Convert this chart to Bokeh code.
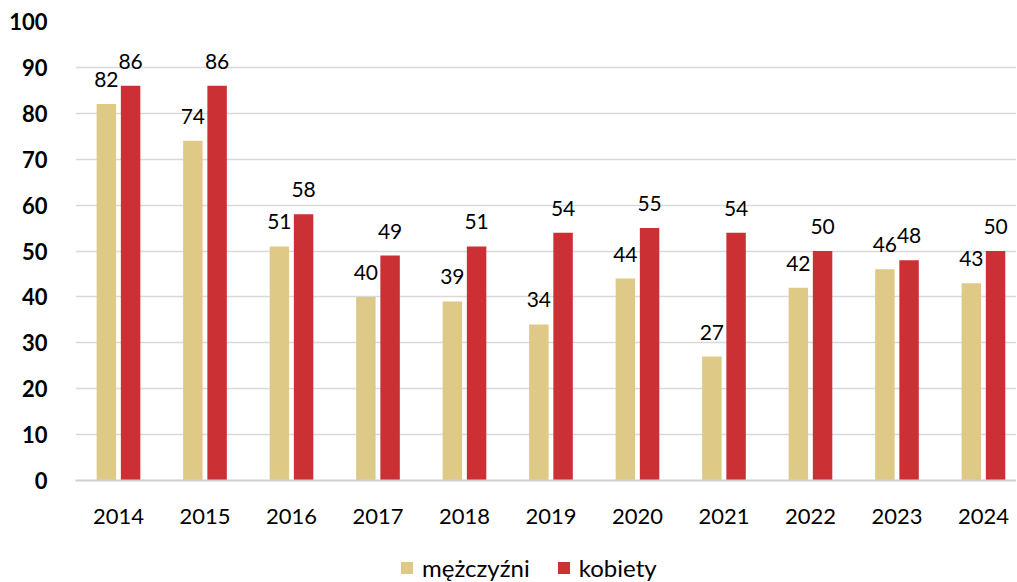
from bokeh.plotting import figure
from bokeh.layouts import column
from bokeh.models import ColumnDataSource, Range1d, LabelSet, Legend, LegendItem, FixedTicker
from bokeh.core.properties import value
from bokeh.embed import file_html
from bokeh.resources import INLINE

years = [2014, 2015, 2016, 2017, 2018, 2019, 2020, 2021, 2022, 2023, 2024]
men = [82, 74, 51, 40, 39, 34, 44, 27, 42, 46, 43]
women = [86, 86, 58, 49, 51, 54, 55, 54, 50, 48, 50]
series_names = ["mężczyźni", "kobiety"]
colors = ["#dec986", "#cb3035"]

FONT = "Lato"
off = 0.14
bw = 0.225

src_m = ColumnDataSource(dict(x=[y - off for y in years], top=men, lab=[str(v) for v in men]))
src_w = ColumnDataSource(dict(x=[y + off for y in years], top=women, lab=[str(v) for v in women]))

p = figure(frame_width=941, frame_height=459, output_backend="svg", toolbar_location=None,
           x_range=Range1d(2013.503, 2024.382), y_range=Range1d(0, 100),
           min_border_left=75, min_border_right=0, min_border_top=21, min_border_bottom=52)
p.outline_line_color = None
p.background_fill_color = "white"

r1 = p.vbar(x="x", top="top", width=bw, source=src_m, fill_color=colors[0], line_color=None)
r2 = p.vbar(x="x", top="top", width=bw, source=src_w, fill_color=colors[1], line_color=None)

for s in (src_m, src_w):
    p.add_layout(LabelSet(x="x", y="top", text="lab", source=s, text_align="center",
                          text_baseline="alphabetic", y_offset=17, text_font=value(FONT),
                          text_font_size="21px", text_color="#000000"))

p.xaxis.ticker = FixedTicker(ticks=years)
p.xaxis.major_label_overrides = {y: str(y) for y in years}
p.xaxis.major_label_text_font = FONT
p.xaxis.major_label_text_font_size = "22px"
p.xaxis.major_label_text_color = "#000000"
p.xaxis.major_label_standoff = 22
p.xaxis.major_tick_line_color = None
p.xaxis.minor_tick_line_color = None
p.xaxis.axis_line_color = "#d0d0d0"
p.xaxis.axis_line_width = 2

p.yaxis.ticker = FixedTicker(ticks=list(range(0, 101, 10)))
p.yaxis.major_label_text_font = FONT
p.yaxis.major_label_text_font_size = "22px"
p.yaxis.major_label_text_font_style = "bold"
p.yaxis.major_label_text_color = "#000000"
p.yaxis.major_label_standoff = 22
p.yaxis.major_tick_line_color = None
p.yaxis.minor_tick_line_color = None
p.yaxis.axis_line_color = None

p.xgrid.grid_line_color = None
p.ygrid.grid_line_color = "#d9d9d9"
p.ygrid.grid_line_width = 1.5

# legend strip (zero-area helper glyphs only provide the legend swatches)
lg = figure(width=1016, height=50, output_backend="svg", toolbar_location=None,
            x_axis_type=None, y_axis_type=None, x_range=Range1d(0, 1), y_range=Range1d(0, 1),
            min_border=0)
lg.outline_line_color = None
lg.xgrid.grid_line_color = None
lg.ygrid.grid_line_color = None
sw = ColumnDataSource(dict(x=[0], top=[0]))
d1 = lg.vbar(x="x", top="top", width=0, source=sw, fill_color=colors[0], line_color=None)
d2 = lg.vbar(x="x", top="top", width=0, source=sw, fill_color=colors[1], line_color=None)
legend = Legend(items=[LegendItem(label=series_names[0], renderers=[d1]),
                       LegendItem(label=series_names[1], renderers=[d2])],
                orientation="horizontal", location=(324, 0),
                label_text_font=FONT, label_text_font_size="24px", label_text_color="#000000",
                glyph_width=15, glyph_height=15, spacing=26, border_line_color=None,
                background_fill_alpha=0, margin=0, padding=0, label_standoff=8)
lg.add_layout(legend, "center")

layout = column(p, lg, spacing=0)
open("out.html", "w").write(file_html(layout, INLINE))
